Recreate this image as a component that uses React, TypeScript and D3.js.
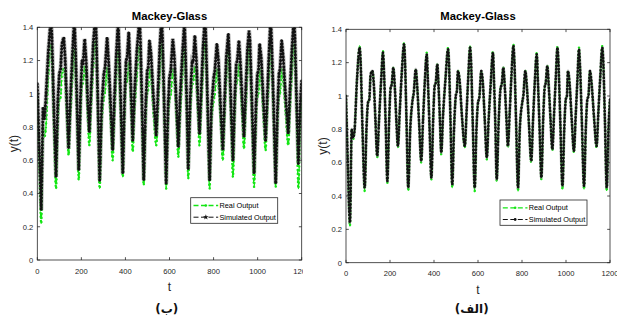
import * as d3 from "d3";

// sample times shared by all three series
const time = [
  0, 8, 18, 26, 32, 38, 50, 62, 66, 75, 85, 93, 100, 106, 112, 120, 126, 134, 142, 150,
  160, 168, 174, 181, 188, 196, 203, 208, 215, 222, 229, 236, 244, 254, 264, 268, 275, 283, 292, 302,
  308, 317, 324, 333, 342, 350, 358, 367, 372, 380, 388, 396, 403, 408, 415, 421, 427, 433, 441, 452,
  464, 468, 475, 483, 491, 499, 504, 509, 516, 527, 540, 548, 556, 564, 568, 576, 585, 593, 600, 606,
  615, 622, 631, 640, 648, 658, 668, 672, 679, 685, 694, 703, 708, 715, 722, 729, 736, 744, 752, 761,
  765, 773, 782, 790, 801, 806, 815, 822, 832, 842, 850, 858, 867, 872, 880, 888, 896, 903, 908, 915,
  922, 930, 938, 946, 954, 961, 965, 974, 984, 992, 999, 1004, 1009, 1016, 1026, 1036, 1044, 1052, 1059, 1063,
  1072, 1082, 1090, 1097, 1102, 1109, 1116, 1127, 1139, 1147, 1156, 1165, 1169, 1177, 1185, 1193, 1200,
];

const realOutput = [
  1.0, 0.6, 0.22, 0.8, 0.74, 0.78, 1.1, 1.3, 1.22, 0.8, 0.43, 0.8, 0.96, 0.98, 1.13, 1.15, 1.08, 0.85, 0.63, 0.85,
  1.1, 1.27, 1.1, 0.8, 0.48, 0.85, 1.05, 1.07, 1.17, 1.05, 0.85, 0.69, 0.9, 1.15, 1.32, 1.22, 0.85, 0.43, 0.8, 0.97,
  1.02, 1.16, 1.05, 0.82, 0.6, 0.85, 1.08, 1.26, 1.1, 0.8, 0.5, 0.85, 1.06, 1.08, 1.19, 1.05, 0.85, 0.65, 0.88, 1.1,
  1.29, 1.2, 0.85, 0.45, 0.8, 1.0, 1.03, 1.15, 1.1, 0.88, 0.69, 0.9, 1.12, 1.3, 1.22, 0.85, 0.43, 0.8, 0.96, 0.99,
  1.15, 1.08, 0.85, 0.62, 0.85, 1.08, 1.27, 1.12, 0.82, 0.49, 0.85, 1.05, 1.07, 1.17, 1.05, 0.87, 0.69, 0.9, 1.12, 1.31,
  1.22, 0.85, 0.43, 0.8, 0.96, 1.0, 1.15, 1.06, 0.82, 0.6, 0.85, 1.08, 1.26, 1.1, 0.8, 0.5, 0.85, 1.05, 1.08, 1.18,
  1.05, 0.85, 0.67, 0.9, 1.12, 1.3, 1.22, 0.85, 0.44, 0.8, 0.98, 1.0, 1.15, 1.08, 0.86, 0.66, 0.88, 1.1, 1.29, 1.2,
  0.85, 0.44, 0.8, 0.98, 1.0, 1.15, 1.08, 0.88, 0.69, 0.9, 1.12, 1.3, 1.22, 0.85, 0.43, 0.8, 0.98,
];

// panel (الف) - close fit
const simulatedA = [
  1.0, 0.61, 0.24, 0.8, 0.75, 0.78, 1.1, 1.29, 1.22, 0.8, 0.45, 0.8, 0.96, 0.98, 1.13, 1.15, 1.08, 0.85, 0.64, 0.85,
  1.1, 1.26, 1.1, 0.8, 0.49, 0.85, 1.05, 1.07, 1.17, 1.05, 0.85, 0.7, 0.9, 1.15, 1.31, 1.22, 0.85, 0.45, 0.8, 0.97,
  1.02, 1.16, 1.05, 0.82, 0.61, 0.85, 1.08, 1.25, 1.1, 0.8, 0.51, 0.85, 1.06, 1.08, 1.19, 1.05, 0.85, 0.66, 0.88, 1.1,
  1.28, 1.2, 0.85, 0.47, 0.8, 1.0, 1.03, 1.15, 1.1, 0.88, 0.7, 0.9, 1.12, 1.29, 1.22, 0.85, 0.45, 0.8, 0.96, 0.99,
  1.15, 1.08, 0.85, 0.63, 0.85, 1.08, 1.26, 1.12, 0.82, 0.5, 0.85, 1.05, 1.07, 1.17, 1.05, 0.87, 0.7, 0.9, 1.12, 1.3,
  1.22, 0.85, 0.45, 0.8, 0.96, 1.0, 1.15, 1.06, 0.82, 0.61, 0.85, 1.08, 1.25, 1.1, 0.8, 0.51, 0.85, 1.05, 1.08, 1.18,
  1.05, 0.85, 0.68, 0.9, 1.12, 1.29, 1.22, 0.85, 0.46, 0.8, 0.98, 1.0, 1.15, 1.08, 0.86, 0.67, 0.88, 1.1, 1.28, 1.2,
  0.85, 0.46, 0.8, 0.98, 1.0, 1.15, 1.08, 0.88, 0.7, 0.9, 1.12, 1.29, 1.22, 0.85, 0.45, 0.8, 0.98,
];

// panel (ب) - noisy fit, overshoots the top
const simulatedB = [
  1.06, 0.7, 0.3, 0.92, 0.85, 0.95, 1.25, 1.46, 1.35, 0.92, 0.5, 0.95, 1.12, 1.15, 1.3, 1.34, 1.22, 0.95, 0.67, 0.96,
  1.25, 1.45, 1.24, 0.9, 0.54, 0.98, 1.2, 1.18, 1.33, 1.19, 0.95, 0.77, 1.02, 1.3, 1.47, 1.33, 0.95, 0.48, 0.92, 1.12,
  1.16, 1.34, 1.18, 0.93, 0.66, 0.97, 1.22, 1.44, 1.25, 0.9, 0.52, 0.96, 1.2, 1.22, 1.37, 1.18, 0.96, 0.72, 1.0, 1.26,
  1.45, 1.32, 0.95, 0.48, 0.9, 1.14, 1.16, 1.32, 1.24, 0.98, 0.75, 1.02, 1.28, 1.46, 1.34, 0.94, 0.46, 0.9, 1.1, 1.14,
  1.33, 1.22, 0.95, 0.68, 0.97, 1.22, 1.44, 1.26, 0.92, 0.55, 0.97, 1.2, 1.19, 1.35, 1.2, 0.97, 0.76, 1.02, 1.27, 1.46,
  1.34, 0.94, 0.48, 0.91, 1.1, 1.14, 1.3, 1.2, 0.92, 0.66, 0.96, 1.22, 1.36, 1.22, 0.9, 0.6, 0.97, 1.18, 1.2, 1.32,
  1.18, 0.96, 0.74, 1.02, 1.27, 1.38, 1.32, 0.95, 0.52, 0.91, 1.12, 1.14, 1.3, 1.22, 0.96, 0.72, 0.99, 1.25, 1.45, 1.33,
  0.95, 0.46, 0.9, 1.12, 1.15, 1.32, 1.22, 0.98, 0.76, 1.02, 1.27, 1.46, 1.34, 0.95, 0.58, 0.92, 1.08,
];

const xTicks = [0, 200, 400, 600, 800, 1000, 1200];
const yTicks = [0, 0.2, 0.4, 0.6, 0.8, 1, 1.2, 1.4];
const legendLabels = ["Real Output", "Simulated Output"];

const FONT = "'Liberation Sans', Arial, sans-serif";
const AXIS = "#262626";
const GREEN = "#14e614";

function Panel({ id, left, right, top, bottom, sim, noisy, legend, caption, captionX }) {
  const x = d3.scaleLinear().domain([0, 1200]).range([left, right]);
  const y = d3.scaleLinear().domain([0, 1.4]).range([bottom, top]);

  const smooth = d3
    .line<number>()
    .x((_, i) => x(time[i]))
    .y((d) => y(d))
    .curve(d3.curveMonotoneX);
  const jagged = d3
    .line<number>()
    .x((_, i) => x(time[i]))
    .y((d) => y(d));

  const realPath = smooth(realOutput);
  const simPath = noisy ? jagged(sim) : smooth(sim);
  const cx = (left + right) / 2;
  const tk = 2.8;

  return (
    <g>
      <defs>
        <clipPath id={id}>
          <rect x={left} y={top} width={right - left} height={bottom - top} />
        </clipPath>
      </defs>

      <text x={cx} y={20} textAnchor="middle" fontFamily={FONT} fontWeight="bold" fontSize={11.3} fill="#000">
        Mackey-Glass
      </text>

      <g clipPath={`url(#${id})`}>
        {/* real output */}
        <path d={realPath} fill="none" stroke={GREEN} strokeWidth={1.3} strokeDasharray="5 2.5" />
        <path d={realPath} fill="none" stroke={GREEN} strokeWidth={2.4} strokeLinecap="round" strokeDasharray="0.1 4" />
        {/* simulated output */}
        <path d={simPath} fill="none" stroke="#808080" strokeOpacity={0.6} strokeWidth={noisy ? 4.2 : 3} />
        <path d={simPath} fill="none" stroke="#111" strokeWidth={1.1} strokeDasharray="3.5 1.8" />
        <path d={simPath} fill="none" stroke="#111" strokeWidth={noisy ? 3 : 2.6} strokeLinecap="round" strokeDasharray="0.1 3.2" />
      </g>

      {/* box */}
      <rect x={left} y={top} width={right - left} height={bottom - top} fill="none" stroke={AXIS} strokeWidth={0.8} />
      {xTicks.map((t) => (
        <g key={"x" + t}>
          <line x1={x(t)} x2={x(t)} y1={bottom} y2={bottom - tk} stroke={AXIS} strokeWidth={0.8} />
          <line x1={x(t)} x2={x(t)} y1={top} y2={top + tk} stroke={AXIS} strokeWidth={0.8} />
          <text x={x(t)} y={bottom + 13.5} textAnchor="middle" fontFamily={FONT} fontSize={7.6} fill={AXIS}>
            {t}
          </text>
        </g>
      ))}
      {yTicks.map((v) => (
        <g key={"y" + v}>
          <line x1={left} x2={left + tk} y1={y(v)} y2={y(v)} stroke={AXIS} strokeWidth={0.8} />
          <line x1={right} x2={right - tk} y1={y(v)} y2={y(v)} stroke={AXIS} strokeWidth={0.8} />
          <text x={left - 4} y={y(v) + 2.8} textAnchor="end" fontFamily={FONT} fontSize={7.6} fill={AXIS}>
            {v}
          </text>
        </g>
      ))}

      <text
        transform={`translate(${left - 19},${(top + bottom) / 2}) rotate(-90)`}
        textAnchor="middle"
        fontFamily={FONT}
        fontSize={12}
        fill={AXIS}
      >
        y(t)
      </text>
      <text x={cx} y={bottom + 31} textAnchor="middle" fontFamily={FONT} fontSize={12} fill={AXIS}>
        t
      </text>

      {/* legend */}
      <rect x={legend.x} y={legend.y} width={legend.w} height={legend.h} fill="#fff" stroke={AXIS} strokeWidth={0.8} />
      {legendLabels.map((label, i) => {
        const ly = legend.y + 7.8 + i * 11.7;
        const x1 = legend.x + 2.8;
        const x2 = legend.x + 27.5;
        const mid = (x1 + x2) / 2;
        return (
          <g key={label}>
            {i === 0 ? (
              <>
                <line x1={x1} x2={x2} y1={ly} y2={ly} stroke={GREEN} strokeWidth={1.3} strokeDasharray="5 2.5" />
                <circle cx={mid} cy={ly} r={1.3} fill={GREEN} />
              </>
            ) : (
              <>
                <line x1={x1} x2={x2} y1={ly} y2={ly} stroke="#111" strokeWidth={1} strokeDasharray="5 2.5" />
                <path d={d3.symbol(noisy ? d3.symbolStar : d3.symbolCircle, noisy ? 10 : 6)()} transform={`translate(${mid},${ly})`} fill="#111" />
              </>
            )}
            <text x={legend.x + 28.8} y={ly + 2.6} fontFamily={FONT} fontSize={7.3} fill="#000">
              {label}
            </text>
          </g>
        );
      })}

      <text x={captionX} y={313} textAnchor="middle" fontFamily="'DejaVu Sans', sans-serif" fontWeight="bold" fontSize={12} fill="#111">
        {caption}
      </text>
    </g>
  );
}

export default function App() {
  return (
    <svg width={617} height={321} style={{ position: "absolute", left: 0, top: 0, background: "#fff" }}>
      <rect width={617} height={321} fill="#fff" />
      <Panel
        id="clipB"
        left={37.3}
        right={301.7}
        top={27.3}
        bottom={260}
        sim={simulatedB}
        noisy={true}
        legend={{ x: 190.7, y: 197.7, w: 87, h: 25.6 }}
        caption="(ب)"
        captionX={166.7}
      />
      <rect x={303} y={0} width={314} height={321} fill="#fff" />
      <Panel
        id="clipA"
        left={346}
        right={610}
        top={29.3}
        bottom={262.7}
        sim={simulatedA}
        noisy={false}
        legend={{ x: 500, y: 200, w: 87, h: 25.3 }}
        caption="(الف)"
        captionX={471.7}
      />
    </svg>
  );
}
